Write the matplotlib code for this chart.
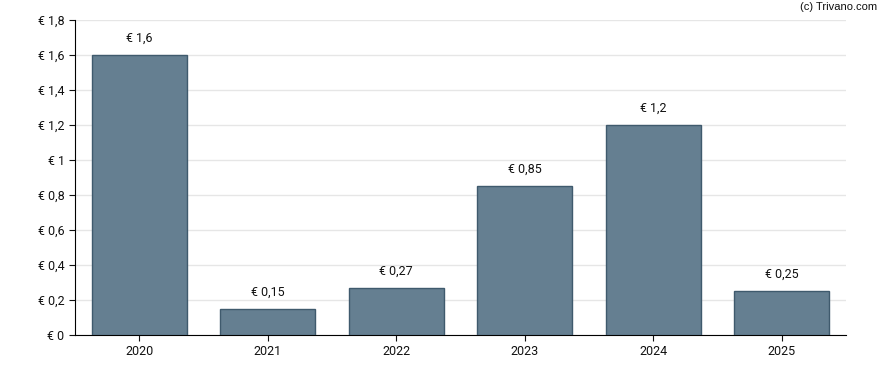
import matplotlib
matplotlib.use("Agg")
import matplotlib.pyplot as plt
from matplotlib.ticker import FuncFormatter

plt.rcParams['font.family'] = ['Roboto', 'DejaVu Sans']

years = ["2020", "2021", "2022", "2023", "2024", "2025"]
values = [1.6, 0.15, 0.27, 0.85, 1.2, 0.25]
value_labels = ["€ 1,6", "€ 0,15", "€ 0,27", "€ 0,85", "€ 1,2", "€ 0,25"]
y_ticks = [0, 0.2, 0.4, 0.6, 0.8, 1.0, 1.2, 1.4, 1.6, 1.8]


def euro(v, pos):
    s = ("%.1f" % v).rstrip('0').rstrip('.')
    return "€ " + s.replace('.', ',')


fig = plt.figure(figsize=(8.88, 3.70), dpi=100)
ax = fig.add_axes([75 / 888, 35 / 370, (846 - 75) / 888, (335 - 20) / 370])

x = range(len(years))
ax.bar(x, values, width=0.74, color='#657f91', edgecolor='#3f5a6d',
       linewidth=1, zorder=3)

for i, (v, lab) in enumerate(zip(values, value_labels)):
    ax.annotate(lab, (i, v), xytext=(0, 7.5), textcoords='offset points',
                ha='center', va='bottom', fontsize=9, color='#111111')

ax.set_xlim(-0.5, 5.5)
ax.set_ylim(0, 1.8)
ax.set_xticks(list(x))
ax.set_xticklabels(years)
ax.set_yticks(y_ticks)
ax.yaxis.set_major_formatter(FuncFormatter(euro))
ax.grid(axis='y', color='#e6e6e6', linewidth=1, zorder=0)
ax.tick_params(axis='both', labelsize=9, colors='#111111', length=4)
ax.tick_params(axis='x', pad=3)

for s in ['top', 'right']:
    ax.spines[s].set_visible(False)
ax.spines['left'].set_color('#000000')
ax.spines['bottom'].set_color('#000000')

fig.text(877 / 888, 1 - 7 / 370, "(c) Trivano.com", ha='right', va='center',
         fontsize=8, color='#111111', family=['Arimo', 'Liberation Sans', 'DejaVu Sans'])

fig.savefig('out.png', dpi=100)
